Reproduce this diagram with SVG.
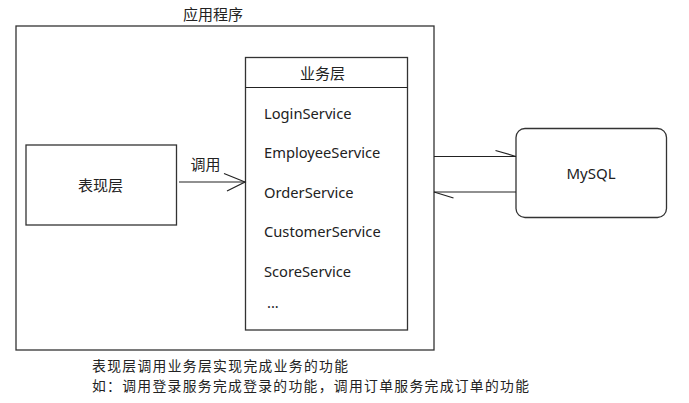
<svg xmlns="http://www.w3.org/2000/svg" width="689" height="403" viewBox="0 0 689 403">
<style>
.box{fill:#fff;stroke:#333;stroke-width:1.3}
.ln{fill:none;stroke:#222;stroke-width:1.2}
.t{font-family:"Noto Sans","Noto Sans CJK SC",sans-serif;font-size:14.7px;fill:#222}
.c{font-family:"Noto Sans CJK SC","Noto Sans",sans-serif;font-size:15px;fill:#222}
.n{font-family:"Noto Sans CJK SC","Noto Sans",sans-serif;font-size:13.8px;fill:#222}
.m{text-anchor:middle}
</style>
<rect width="689" height="403" fill="#fff"/>
<g id="app">
<rect class="box" x="16" y="26" width="418" height="324"/>
<text class="c m" x="213" y="20">应用程序</text>
</g>
<g id="presentation">
<rect class="box" x="26" y="145" width="150.5" height="80"/>
<text class="c m" x="100.5" y="191">表现层</text>
</g>
<g id="business">
<rect class="box" x="245.5" y="57.5" width="162" height="272.5"/>
<line class="ln" x1="245.5" y1="87.5" x2="407.5" y2="87.5"/>
<text class="c m" x="322.5" y="79">业务层</text>
<text class="t" x="264" y="118.5">LoginService</text>
<text class="t" x="264" y="158">EmployeeService</text>
<text class="t" x="264" y="197.5">OrderService</text>
<text class="t" x="264" y="237">CustomerService</text>
<text class="t" x="264" y="276.5">ScoreService</text>
<text class="t" x="267" y="308">...</text>
</g>
<g id="mysql">
<rect class="box" x="516" y="128.5" width="150.5" height="89" rx="9"/>
<text class="t m" x="591" y="178.5" style="font-size:15px">MySQL</text>
</g>
<g id="connectors">
<line class="ln" x1="179" y1="182" x2="245" y2="182"/>
<polyline class="ln" points="224,173.5 245,182 227,191"/>
<text class="c" x="190.5" y="169.5">调用</text>
<line class="ln" x1="434" y1="156.5" x2="516" y2="156.5"/>
<line class="ln" x1="495.5" y1="150.5" x2="516" y2="156.5"/>
<line class="ln" x1="516" y1="192" x2="434" y2="192"/>
<line class="ln" x1="434" y1="192" x2="453.5" y2="198"/>
</g>
<g id="notes">
<text class="n" x="92" y="371" textLength="256" lengthAdjust="spacing">表现层调用业务层实现完成业务的功能</text>
<text class="n" x="92" y="391" textLength="437" lengthAdjust="spacing">如：调用登录服务完成登录的功能，调用订单服务完成订单的功能</text>
</g>
</svg>
